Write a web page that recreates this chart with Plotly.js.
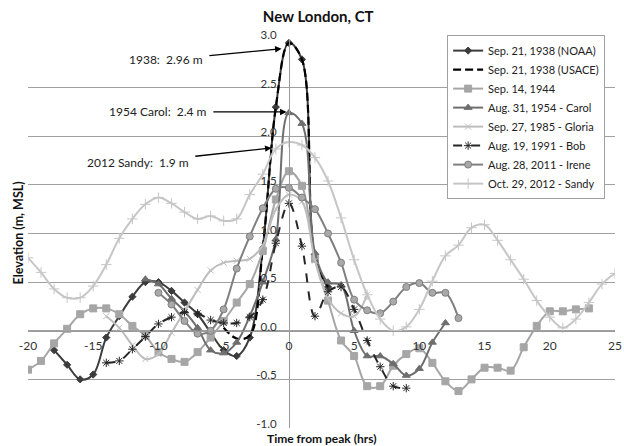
<!DOCTYPE html>
<html>
<head>
<meta charset="utf-8">
<script src="https://cdn.plot.ly/plotly-3.0.1.min.js"></script>
<style>html,body{margin:0;padding:0;background:#fff;}#chart{width:624px;height:446px;}</style>
</head>
<body>
<div id="chart"></div>
<script>
// ---- data (time from peak in hours, elevation in m MSL) ----
const noaaT = [-18,-17,-16,-15,-14,-13,-12,-11,-10,-9,-8,-7,-6,-5,-4,-3,-2,-1,0,1,2,3];
const noaaV = [-0.2,-0.35,-0.5,-0.45,-0.07,0.15,0.35,0.5,0.5,0.41,0.29,0.17,-0.02,-0.2,-0.26,-0.07,0.85,2.3,2.96,2.79,0.75,0.45];

const usaceT = [-5,-4,-3,-2,-1,0,1,2,3];
const usaceV = [0.03,-0.08,-0.05,0.85,2.3,2.96,2.79,0.75,0.45];

const y1944T = [-20,-19,-18,-17,-16,-15,-14,-13,-12,-11,-10,-9,-8,-7,-6,-5,-4,-3,-2,-1,0,1,2,3,4,5,6,7,8,9,10,11,12,13,14,15,16,17,18,19,20,21,22,23];
const y1944V = [-0.4,-0.31,-0.13,0.02,0.17,0.23,0.23,0.17,0.05,-0.05,-0.22,-0.29,-0.32,-0.22,-0.07,0.1,0.29,0.48,0.82,1.35,1.64,1.49,0.74,0.31,-0.1,-0.26,-0.57,-0.57,-0.36,-0.24,-0.18,-0.33,-0.52,-0.62,-0.5,-0.38,-0.38,-0.41,-0.17,0.05,0.2,0.2,0.22,0.23];

const carolT = [-11,-10,-9,-8,-7,-6,-5,-4,-3,-2,-1,0,1,2,3,4,5,6,7,8,9,10,11,12];
const carolV = [0.53,0.48,0.33,0.2,0.03,-0.2,-0.23,-0.12,0.15,0.5,0.94,2.24,2.13,0.8,0.5,0.47,0.0,-0.26,-0.26,-0.34,-0.46,-0.39,-0.12,0.08];

const gloriaT = [-14,-13,-12,-11,-10,-9,-8,-7,-6,-5,-4,-3,-2,-1,0,1,2,3,4,5,6];
const gloriaV = [0.15,0.03,-0.15,-0.29,-0.24,-0.02,0.2,0.42,0.62,0.7,0.72,0.74,0.88,1.25,1.4,1.33,0.72,0.33,0.18,0.15,0.37];

const bobT = [-14,-13,-12,-11,-10,-9,-8,-7,-6,-5,-4,-3,-2,-1,0,1,2,3,4,5,6,7,8,9];
const bobV = [-0.33,-0.31,-0.19,-0.06,0.07,0.14,0.19,0.18,0.11,0.08,0.08,0.14,0.32,0.9,1.31,0.87,0.15,0.4,0.45,0.22,-0.1,-0.37,-0.57,-0.59];

const ireneT = [-10,-9,-8,-7,-6,-5,-4,-3,-2,-1,0,1,2,3,4,5,6,7,8,9,10,11,12,13];
const ireneV = [0.39,0.27,0.1,-0.03,0.0,0.22,0.64,0.97,1.26,1.46,1.47,1.37,1.25,1.0,0.7,0.32,0.21,0.18,0.3,0.45,0.49,0.39,0.39,0.13];

const sandyT = [-20,-19,-18,-17,-16,-15,-14,-13,-12,-11,-10,-9,-8,-7,-6,-5,-4,-3,-2,-1,0,1,2,3,4,5,6,7,8,9,10,11,12,13,14,15,16,17,18,19,20,21,22,23,24,25];
const sandyV = [0.75,0.6,0.43,0.34,0.34,0.46,0.68,0.95,1.15,1.3,1.37,1.31,1.22,1.15,1.18,1.13,1.15,1.4,1.61,1.87,1.94,1.91,1.78,1.54,1.16,0.73,0.37,0.12,0.0,0.04,0.22,0.51,0.77,0.88,1.06,1.09,0.93,0.73,0.53,0.31,0.14,0.03,0.12,0.29,0.48,0.59];

const seriesNames = ["Sep. 21, 1938 (NOAA)","Sep. 21, 1938 (USACE)","Sep. 14, 1944","Aug. 31, 1954 - Carol","Sep. 27, 1985 - Gloria","Aug. 19, 1991 - Bob","Aug. 28, 2011 - Irene","Oct. 29, 2012 - Sandy"];

const xTickVals = [-20,-15,-10,-5,0,5,10,15,20,25];
const yTickVals = [-1.0,-0.5,0.0,0.5,1.0,1.5,2.0,2.5,3.0];

const annoTexts = ["1938:  2.96 m","1954 Carol:  2.4 m","2012 Sandy:  1.9 m"];
const annoTip = [[-0.56,2.90],[-0.18,2.25],[-1.33,1.88]];
const annoText = [[-9.43,2.785],[-10.05,2.25],[-11.58,1.73]];

// ---- traces ----
const FONT = "Lato, 'Open Sans', sans-serif";
function tr(x,y,name,color,width,dash,sym,msize,mfill,mline){
  const t = {x:x,y:y,name:name,type:'scatter',mode: sym?'lines+markers':'lines',
    line:{color:color,width:width,dash:dash||'solid',shape:'spline',smoothing:1},
    hoverinfo:'skip'};
  if (sym) t.marker = {symbol:sym,size:msize,color:mfill||color,line:{color:mline||color,width:1}};
  return t;
}
const data = [
  tr(noaaT,noaaV,seriesNames[0],'#3c3c3c',2,'solid','diamond',5.5),
  tr(usaceT,usaceV,seriesNames[1],'#000000',2.2,'8px,4px',null),
  tr(y1944T,y1944V,seriesNames[2],'#a6a6a6',2,'solid','square',7),
  tr(carolT,carolV,seriesNames[3],'#6e6e6e',2,'solid','triangle-up',7),
  tr(gloriaT,gloriaV,seriesNames[4],'#bdbdbd',2,'solid','x-thin-open',6,null,'#a8a8a8'),
  tr(bobT,bobV,seriesNames[5],'#262626',2,'dash','asterisk-open',7,null,'#262626'),
  tr(ireneT,ireneV,seriesNames[6],'#7f7f7f',2,'solid','circle',7,'#a9a9a9','#7f7f7f'),
  tr(sandyT,sandyV,seriesNames[7],'#c6c6c6',2,'solid','cross-thin-open',7.5,null,'#a0a0a0')
];

const annotations = annoTexts.map((t,i)=>({
  x:annoTip[i][0], y:annoTip[i][1], xref:'x', yref:'y',
  ax:annoText[i][0], ay:annoText[i][1], axref:'x', ayref:'y',
  text:t, showarrow:true, arrowhead:2, arrowsize:1, arrowwidth:1.3, arrowcolor:'#000',
  borderpad:6, font:{family:FONT,size:12,color:'#222'}
}));
annotations.push({xref:'paper',yref:'paper',x:0.5,y:-0.026,yanchor:'middle',showarrow:false,
  text:'<b>Time from peak (hrs)</b>',font:{family:FONT,size:12,color:'#111'}});
annotations.push({xref:'paper',yref:'paper',x:-0.017,y:0.5,xanchor:'center',yanchor:'middle',textangle:-90,showarrow:false,
  text:'<b>Elevation (m, MSL)</b>',font:{family:FONT,size:12.5,color:'#111'}});

const layout = {
  width:624, height:446,
  margin:{l:28,r:9,t:39,b:18},
  paper_bgcolor:'#fff', plot_bgcolor:'#fff',
  font:{family:FONT,size:12,color:'#333'},
  title:{text:'<b>New London, CT</b>', x:0.51, xref:'container', y:0.962, yref:'container', yanchor:'middle',
    font:{family:FONT,size:15,color:'#111'}},
  xaxis:{range:[-20,25], anchor:'free', position:0.25, tickvals:xTickVals, ticktext:xTickVals.map(String),
    showgrid:false, zeroline:false, showline:true, linecolor:'#9a9a9a', linewidth:1,
    ticks:'outside', ticklen:4, tickcolor:'rgba(0,0,0,0)', tickfont:{family:FONT,size:12,color:'#333'}},
  yaxis:{range:[-1,3], anchor:'free', position:20/45, tickvals:yTickVals, ticktext:yTickVals.map(v=>v.toFixed(1)),
    showgrid:true, gridcolor:'#a0a0a0', gridwidth:1, zeroline:false, showline:true, linecolor:'#9a9a9a', linewidth:1,
    ticks:'outside', ticklen:10, tickcolor:'rgba(0,0,0,0)', ticklabelshift:-4, tickfont:{family:FONT,size:11.5,color:'#333'}},
  legend:{x:0.714, xanchor:'left', y:1.01, yanchor:'top', bgcolor:'#fff', bordercolor:'#a0a0a0', borderwidth:1,
    font:{family:FONT,size:11,color:'#222'}, itemwidth:30, tracegroupgap:0},
  showlegend:true,
  annotations:annotations
};
Plotly.newPlot('chart', data, layout, {staticPlot:true, displayModeBar:false});
</script>
</body>
</html>
